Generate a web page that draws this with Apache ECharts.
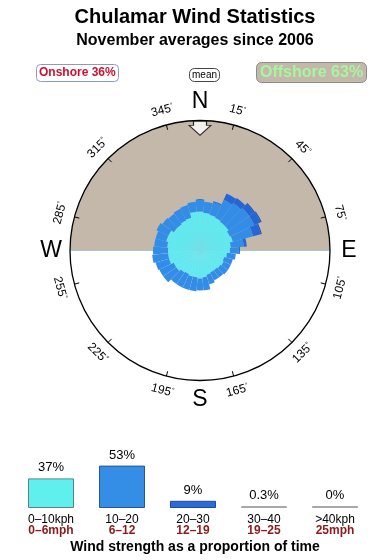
<!DOCTYPE html>
<html><head><meta charset="utf-8">
<script src="https://cdn.jsdelivr.net/npm/echarts@6/dist/echarts.min.js"></script>
<style>html,body{margin:0;padding:0;background:#fff}#c{width:390px;height:560px}</style>
</head><body><div id="c"></div><script>
// ---- texts ----
const titleText = 'Chulamar Wind Statistics';
const subtitleText = 'November averages since 2006';
const onshoreLabel = 'Onshore 36%';
const offshoreLabel = 'Offshore 63%';
const meanLabel = 'mean';
const captionText = 'Wind strength as a proportion of time';

// ---- rose data (36 directions, compass degrees) ----
const dirs = [0,10,20,30,40,50,60,70,80,90,100,110,120,130,140,150,160,170,180,190,200,210,220,230,240,250,260,270,280,290,300,310,320,330,340,350];
const speed0to10 = [3.9,3.8,3.7,3.6,3.5,3.5,3.3,3.4,3.1,3.0,2.7,2.5,2.6,2.5,2.4,2.4,2.5,2.7,2.8,2.7,2.7,2.6,2.7,2.9,2.9,3.2,3.2,3.2,3.3,3.5,3.5,3.2,3.2,3.3,3.4,3.9];
const speed10to20 = [1.2,1.1,1.3,2.0,2.3,2.5,2.7,2.1,1.3,0.9,0.9,0.9,0.8,0.9,0.9,0.9,1.0,1.3,1.2,1.4,1.4,1.5,1.4,1.6,1.6,1.4,1.6,1.5,1.3,1.1,1.3,1.4,1.3,1.3,1.3,1.0];
const speed20to30 = [0,0,0.1,0.7,0.6,0.6,0.7,0.8,0.3,0.1,0,0,0,0,0,0,0,0,0,0,0,0,0,0,0,0,0,0,0,0,0,0,0,0,0,0];
const speed30to40 = [0,0,0,0,0,0.1,0.1,0.1,0,0,0,0,0,0,0,0,0,0,0,0,0,0,0,0,0,0,0,0,0,0,0,0,0,0,0,0];
const roseMax = 13;
const meanDirection = 0;
const meanRadius = 12.22;

// ---- compass ----
const sectorNames = ['Offshore','Onshore'];
const tickAngles = [15,45,75,105,135,165,195,225,255,285,315,345];
const tickLabels = ['15','45','75','105','135','165','195','225','255','285','315','345'];
const compassLetters = ['N','E','S','W'];
const compassAngles = [0,90,180,270];

// ---- strength bar chart ----
const kphLabels = ['0\u201310kph','10\u201320','20\u201330','30\u201340','>40kph'];
const mphLabels = ['0\u20136mph','6\u201312','12\u201319','19\u201325','25mph'];
const strengthPct = [37,53,9,0.3,0];

// ---- styles ----
const FONT = '"Liberation Sans", Arial, Helvetica, sans-serif';
const CX = 200, CY = 250.5, R = 130;
const roseColors = ['#5feaf0','#338de6','#2466d4','#1a4bb0'];
const barColors = ['#5ff0ee','#358ee6','#2a6bd8','#b0b0b0','#b0b0b0'];
const barBorders = ['#5f7f8f','#2a5590','#1d4a9a','#a8a8a8','#a8a8a8'];

const chart = echarts.init(document.getElementById('c'));

const gfx = [];
tickAngles.forEach((a, i) => {
  const rad = a * Math.PI / 180;
  const rr = 145;
  let rot = (a <= 90 || a >= 270) ? (a > 180 ? a - 360 : a) : a - 180;
  gfx.push({
    type: 'text', x: CX + rr * Math.sin(rad), y: CY - rr * Math.cos(rad),
    rotation: -rot * Math.PI / 180, z: 10,
    style: { text: '{n|' + tickLabels[i] + '}{d|\u00b0}', align: 'center', verticalAlign: 'middle',
      rich: { n: { fontSize: 12, fontFamily: FONT, fill: '#000' }, d: { fontSize: 7, fontFamily: FONT, fill: '#000', verticalAlign: 'top' } } }
  });
});
compassLetters.forEach((l, i) => {
  const rad = compassAngles[i] * Math.PI / 180;
  const rr = 149;
  gfx.push({
    type: 'text', x: CX + rr * Math.sin(rad), y: CY - rr * Math.cos(rad), z: 10,
    style: { text: l, fontSize: 23, fontFamily: FONT, fill: '#000', align: 'center', verticalAlign: 'middle' }
  });
});

const roseSeries = [speed0to10, speed10to20, speed20to30, speed30to40].map((d, i) => ({
  type: 'bar', coordinateSystem: 'polar', polarIndex: 1, stack: 'rose',
  data: d, barCategoryGap: '0%', z: 3, silent: true,
  itemStyle: i === 0 ? { color: roseColors[i], borderColor: '#78dde8', borderWidth: 0.5 } : { color: roseColors[i] }
}));

const option = {
  animation: false,
  textStyle: { fontFamily: FONT },
  title: [
    { text: titleText, left: 'center', top: 7, padding: 0, textStyle: { fontFamily: FONT, fontSize: 20, fontWeight: 'bold', color: '#000', lineHeight: 20 } },
    { text: subtitleText, left: 'center', top: 33, padding: 0, textStyle: { fontFamily: FONT, fontSize: 16, fontWeight: 'bold', color: '#000', lineHeight: 16 } },
    { text: onshoreLabel, left: 36, top: 64, padding: [3,3,3,3], borderColor: '#8a9cc0', borderWidth: 1, borderRadius: 4, backgroundColor: '#fff',
      textStyle: { fontFamily: FONT, fontSize: 12, fontWeight: 'bold', color: '#cc1030', lineHeight: 12 } },
    { text: meanLabel, left: 189, top: 68, padding: [2,3,2,3], borderColor: '#444', borderWidth: 1, borderRadius: 5, backgroundColor: '#fff',
      textStyle: { fontFamily: FONT, fontSize: 10, fontWeight: 'normal', color: '#000', lineHeight: 10 } },
    { text: offshoreLabel, left: 256, top: 62, padding: [3,4,2,4], borderColor: '#8c8c8c', borderWidth: 1, borderRadius: 5, backgroundColor: '#c4b8aa',
      textStyle: { fontFamily: FONT, fontSize: 16, fontWeight: 'bold', color: '#a8f5a0', lineHeight: 16 } },
    { text: captionText, left: 'center', top: 540, padding: 0, textStyle: { fontFamily: FONT, fontSize: 14, fontWeight: 'bold', color: '#000', lineHeight: 14 } }
  ],
  polar: [
    { center: [CX, CY], radius: R },
    { center: [CX, CY], radius: R },
    { center: [CX, CY], radius: R }
  ],
  angleAxis: [
    { polarIndex: 0, type: 'category', data: sectorNames, startAngle: 180, clockwise: true, z: 1,
      axisLine: { show: true, lineStyle: { color: '#000', width: 1.3 } }, axisTick: { show: false }, axisLabel: { show: false },
      splitLine: { show: true, lineStyle: { color: '#a9c4d8', width: 1 } } },
    { polarIndex: 1, type: 'category', data: dirs, startAngle: 95, clockwise: true, show: false },
    { polarIndex: 2, type: 'category', data: tickLabels, startAngle: 75, clockwise: true, z: 5,
      axisLine: { show: false }, axisLabel: { show: false }, splitLine: { show: false },
      axisTick: { show: true, inside: true, length: 5, lineStyle: { color: '#000', width: 1 } } }
  ],
  radiusAxis: [
    { polarIndex: 0, type: 'value', min: 0, max: 1, show: false },
    { polarIndex: 1, type: 'value', min: 0, max: roseMax, show: false },
    { polarIndex: 2, type: 'value', min: 0, max: 1, show: false }
  ],
  grid: { left: 15.5, right: 19.5, top: 428, bottom: 52 },
  xAxis: { type: 'category', data: kphLabels, axisLine: { show: false }, axisTick: { show: false },
    axisLabel: { interval: 0, margin: 6, formatter: (v, i) => '{k|' + v + '}\n{m|' + mphLabels[i] + '}',
      rich: { k: { fontFamily: FONT, fontSize: 12, color: '#000', lineHeight: 11 },
              m: { fontFamily: FONT, fontSize: 12, fontWeight: 'bold', color: '#8b1a1a', lineHeight: 11 } } } },
  yAxis: { type: 'value', min: 0, max: 100, show: false },
  series: [
    { type: 'bar', coordinateSystem: 'polar', polarIndex: 0, data: [1, 1], barCategoryGap: '0%', z: 0, silent: true,
      itemStyle: { color: (p) => ['#c4b8aa', '#ffffff'][p.dataIndex] } },
    ...roseSeries,
    { type: 'scatter', coordinateSystem: 'polar', polarIndex: 1, z: 6, silent: true,
      data: [[meanRadius, dirs.indexOf(meanDirection)]],
      symbol: 'path://M4.5,0L17.5,0L17.5,4L22,4L11,14L0,4L4.5,4Z', symbolSize: [22, 14], symbolRotate: -meanDirection,
      itemStyle: { color: '#fff', borderColor: '#000', borderWidth: 1 } },
    { type: 'bar', xAxisIndex: 0, yAxisIndex: 0, barWidth: 46, barMinHeight: 2,
      data: strengthPct.map((v, i) => ({ value: v, itemStyle: { color: barColors[i], borderColor: barBorders[i], borderWidth: 1 } })),
      label: { show: true, position: 'top', distance: 4, formatter: '{c}%', fontFamily: FONT, fontSize: 13, color: '#000' } }
  ],
  graphic: { elements: gfx }
};
chart.setOption(option);
</script></body></html>
